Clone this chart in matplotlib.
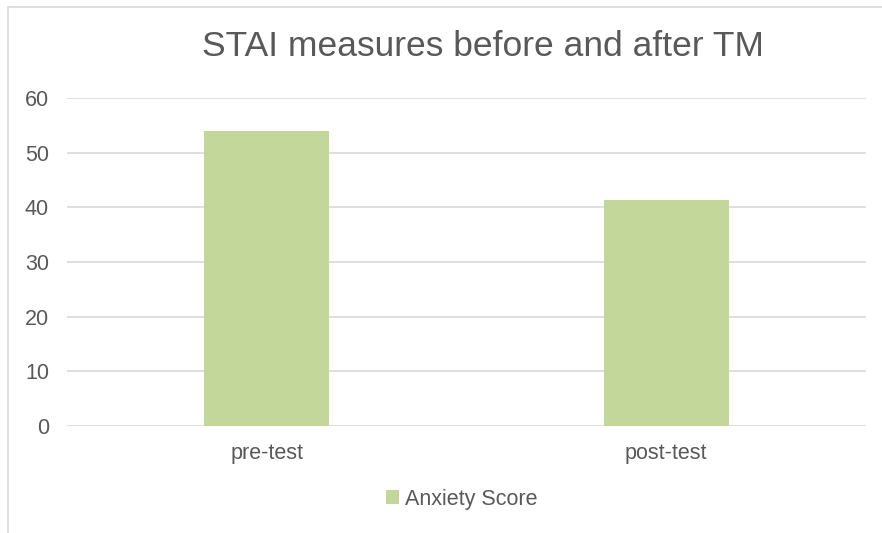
import matplotlib.pyplot as plt
from matplotlib.patches import Rectangle

categories = ["pre-test", "post-test"]
anxiety_score = [54.0, 41.4]
y_ticks = [0, 10, 20, 30, 40, 50, 60]

plt.rcParams['font.family'] = ['Liberation Sans', 'DejaVu Sans']
text_color = '#595959'
bar_color = '#C4D79B'

fig = plt.figure(figsize=(8.82, 5.33), dpi=100)
ax = fig.add_axes([67 / 882, 1 - 426 / 533, 799 / 882, 328 / 533])

x = range(len(categories))
ax.bar(x, anxiety_score, width=0.3125, color=bar_color, label="Anxiety Score", zorder=3)

ax.set_xlim(-0.5, len(categories) - 0.5)
ax.set_ylim(0, 60)
ax.set_yticks(y_ticks)
ax.set_xticks(list(x))
ax.set_xticklabels(categories)
ax.grid(axis='y', color='#D9D9D9', linewidth=1.2, zorder=0)
for s in ax.spines.values():
    s.set_visible(False)
ax.tick_params(axis='both', length=0, labelsize=15.5, colors=text_color)
ax.tick_params(axis='y', pad=13)
ax.tick_params(axis='x', pad=12)

fig.text(483 / 882, 1 - 46 / 533, "STAI measures before and after TM",
         ha='center', va='center', fontsize=25.5, color=text_color)

fig.legend(loc='center', bbox_to_anchor=(462 / 882, 1 - 499 / 533), frameon=False,
           fontsize=15.5, labelcolor=text_color, handlelength=0.6, handleheight=0.6,
           handletextpad=0.3)

# outer chart border
fig.patches.append(Rectangle((8 / 882, -0.1), 2, 1 - 7 / 533 + 0.1, transform=fig.transFigure,
                             fill=False, edgecolor='#D9D9D9', linewidth=1.2))

fig.savefig("out.png", dpi=100)
